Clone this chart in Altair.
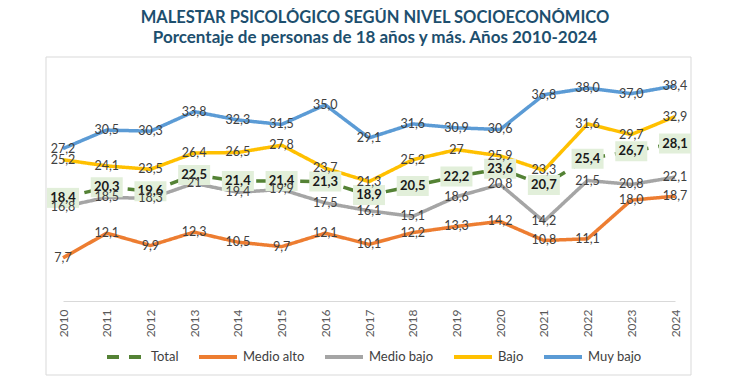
import altair as alt
import pandas as pd

years = list(range(2010, 2025))
series_names = ["Total", "Medio alto", "Medio bajo", "Bajo", "Muy bajo"]
series_colors = ["#548235", "#ED7D31", "#A5A5A5", "#FFC000", "#5B9BD5"]

total = [18.4, 20.3, 19.6, 22.5, 21.4, 21.4, 21.3, 18.9, 20.5, 22.2, 23.6, 20.7, 25.4, 26.7, 28.1]
medio_alto = [7.7, 12.1, 9.9, 12.3, 10.5, 9.7, 12.1, 10.1, 12.2, 13.3, 14.2, 10.8, 11.1, 18.0, 18.7]
medio_bajo = [16.8, 18.5, 18.3, 21.0, 19.4, 19.9, 17.5, 16.1, 15.1, 18.6, 20.8, 14.2, 21.5, 20.8, 22.1]
bajo = [25.2, 24.1, 23.5, 26.4, 26.5, 27.8, 23.7, 21.3, 25.2, 27.0, 25.9, 23.3, 31.6, 29.7, 32.9]
muy_bajo = [27.2, 30.5, 30.3, 33.8, 32.3, 31.5, 35.0, 29.1, 31.6, 30.9, 30.6, 36.8, 38.0, 37.0, 38.4]

# labels that the source shows without a decimal
int_labels = {("Medio bajo", 2013), ("Bajo", 2019)}

values = [total, medio_alto, medio_bajo, bajo, muy_bajo]
rows = []
for name, vals in zip(series_names, values):
    for y, v in zip(years, vals):
        if (name, y) in int_labels:
            lab = f"{v:.0f}"
        else:
            lab = f"{v:.1f}".replace(".", ",")
        rows.append({"year": y, "series": name, "value": v, "label": lab})
df = pd.DataFrame(rows)

FONT = "Lato"
TITLE_COLOR = "#1D4F6E"

x_enc = alt.X("year:Q",
              scale=alt.Scale(domain=[2010, 2024], nice=False, zero=False),
              axis=alt.Axis(values=years, format="d", labelAngle=-90, title=None,
                            ticks=False, grid=False, domainColor="#D9D9D9",
                            labelColor="#595959", labelFontSize=12, labelFont=FONT,
                            labelPadding=8))
y_enc = alt.Y("value:Q", scale=alt.Scale(domain=[0, 43], nice=False), axis=None)
color_enc = alt.Color("series:N", scale=alt.Scale(domain=series_names, range=series_colors),
                      sort=series_names, title=None)
dash_enc = alt.StrokeDash("series:N",
                          scale=alt.Scale(domain=series_names,
                                          range=[[12, 10], [1, 0], [1, 0], [1, 0], [1, 0]]),
                          sort=series_names, title=None)

base = alt.Chart(df)

frame = alt.Chart(alt.Data(values=[{}])).mark_rect(filled=False, stroke="#D9D9D9", strokeWidth=1).encode(
    x=alt.value(-17), x2=alt.value(628), y=alt.value(-3), y2=alt.value(315))

line_total = base.transform_filter(alt.datum.series == "Total").mark_line(strokeWidth=3.5).encode(
    x=x_enc, y=y_enc, color=color_enc, strokeDash=dash_enc)

line_others = base.transform_filter(alt.datum.series != "Total").mark_line(
    strokeWidth=3.5, strokeJoin="round").encode(
    x=x_enc, y=y_enc, color=color_enc, strokeDash=dash_enc,
    order=alt.Order("year:Q"))

boxes = base.transform_filter(alt.datum.series == "Total").mark_point(
    shape="M-1.6,-1H1.6V1H-1.6Z", size=400, filled=True, fill="#E2EFDA", opacity=1,
    strokeWidth=0).encode(x=x_enc, y=y_enc)

total_labels = base.transform_filter(alt.datum.series == "Total").mark_text(
    font=FONT, fontSize=13, fontWeight="bold", color="#1A1A1A", baseline="middle").encode(
    x=x_enc, y=y_enc, text="label:N")

other_labels = base.transform_filter(alt.datum.series != "Total").mark_text(
    font=FONT, fontSize=12.5, color="#404040", baseline="middle").encode(
    x=x_enc, y=y_enc, text="label:N")

chart = alt.layer(frame, line_total, line_others, boxes, total_labels, other_labels).properties(
    width=612, height=241,
    autosize=alt.AutoSizeParams(type="none"),
    padding={"left": 55, "top": 52, "right": 67, "bottom": 75},
    title=alt.TitleParams(
        text="MALESTAR PSICOLÓGICO SEGÚN NIVEL SOCIOECONÓMICO",
        subtitle="Porcentaje de personas de 18 años y más. Años 2010-2024",
        font=FONT, fontSize=16.5, fontWeight="bold", color=TITLE_COLOR,
        subtitleFont=FONT, subtitleFontSize=17, subtitleFontWeight="bold",
        subtitleColor=TITLE_COLOR, subtitlePadding=3,
        anchor="middle", offset=11, dx=6),
).resolve_scale(color="shared", strokeDash="shared").configure_view(
    stroke=None
).configure_legend(
    orient="none", legendX=42, legendY=276, direction="horizontal",
    symbolType="stroke", symbolSize=1444, symbolStrokeWidth=4,
    labelFont=FONT, labelFontSize=13, labelColor="#404040",
    columnPadding=12, labelOffset=4
)

chart.save("out.html", embed_options={"renderer": "svg", "actions": False})
